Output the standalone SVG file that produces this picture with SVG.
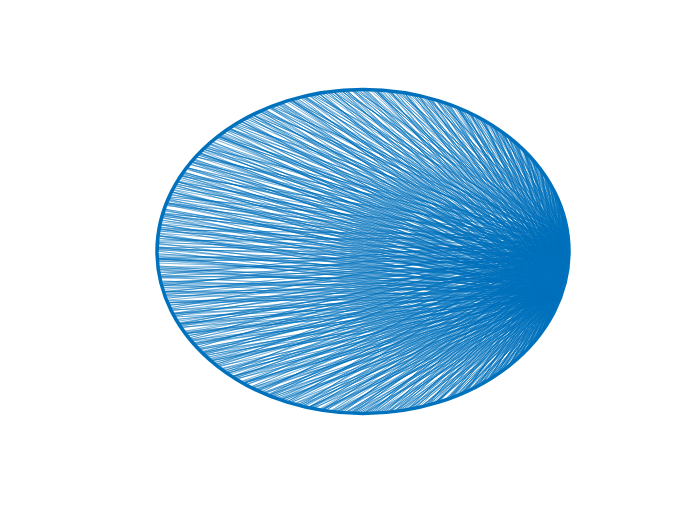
<svg xmlns="http://www.w3.org/2000/svg" xmlns:xlink="http://www.w3.org/1999/xlink" width="700" height="525" viewBox="0 0 700 525">
<style>
.edge{fill:none;stroke:#0072BD;stroke-width:0.0034;stroke-linejoin:round}
.o1{stroke-opacity:0.55}
.o2{stroke-opacity:0.7}
.o3{stroke-opacity:0.45}
.node{fill:none;stroke:#0072BD;stroke-width:3.5}
</style>
<defs>
<path id="p1" class="edge" d="M1 0L.998 .07 1 0 .99 .139 1 0 .978 .208 1 0 .961 .276 1 0 .94 .342 1 0 .914 .407 1 0 .883 .469 1 0 .848 .53 1 0 .809 .588 1 0 .766 .643 1 0 .719 .695 1 0 .669 .743 1 0 .616 .788 1 0 .559 .829 1 0 .5 .866 1 0 .438 .899 1 0 .375 .927 1 0 .309 .951 1 0 .242 .97 1 0 .174 .985 1 0 .105 .995 1 0 .035 .999 1 0 -.035 .999 1 0 -.105 .995 1 0 -.174 .985 1 0 -.242 .97 1 0 -.309 .951 1 0 -.375 .927 1 0 -.438 .899 1 0 -.5 .866 1 0 -.559 .829 1 0 -.616 .788 1 0 -.669 .743 1 0 -.719 .695 1 0 -.766 .643 1 0 -.809 .588 1 0 -.848 .53 1 0 -.883 .469 1 0 -.914 .407 1 0 -.94 .342 1 0 -.961 .276 1 0 -.978 .208 1 0 -.99 .139 1 0 -.998 .07 1 0 -1 0 1 0 -.998 -.07 1 0 -.99 -.139 1 0 -.978 -.208 1 0 -.961 -.276 1 0 -.94 -.342 1 0 -.914 -.407 1 0 -.883 -.469 1 0 -.848 -.53 1 0 -.809 -.588 1 0 -.766 -.643 1 0 -.719 -.695 1 0 -.669 -.743 1 0 -.616 -.788 1 0 -.559 -.829 1 0 -.5 -.866 1 0 -.438 -.899 1 0 -.375 -.927 1 0 -.309 -.951 1 0 -.242 -.97 1 0 -.174 -.985 1 0 -.105 -.995 1 0 -.035 -.999 1 0 .035 -.999 1 0 .105 -.995 1 0 .174 -.985 1 0 .242 -.97 1 0 .309 -.951 1 0 .375 -.927 1 0 .438 -.899 1 0 .5 -.866 1 0 .559 -.829 1 0 .616 -.788 1 0 .669 -.743 1 0 .719 -.695 1 0 .766 -.643 1 0 .809 -.588 1 0 .848 -.53 1 0 .883 -.469 1 0 .914 -.407 1 0 .94 -.342 1 0 .961 -.276 1 0 .978 -.208 1 0 .99 -.139 1 0 .998 -.07"/>
<path id="p2" class="edge" d="M.999 -.035L.998 .07 .999 -.035 .99 .139 .999 -.035 .978 .208 .999 -.035 .961 .276 .999 -.035 .94 .342 .999 -.035 .914 .407 .999 -.035 .883 .469 .999 -.035 .848 .53 .999 -.035 .809 .588 .999 -.035 .766 .643 .999 -.035 .719 .695 .999 -.035 .669 .743 .999 -.035 .616 .788 .999 -.035 .559 .829 .999 -.035 .5 .866 .999 -.035 .438 .899 .999 -.035 .375 .927 .999 -.035 .309 .951 .999 -.035 .242 .97 .999 -.035 .174 .985 .999 -.035 .105 .995 .999 -.035 .035 .999 .999 -.035 -.035 .999 .999 -.035 -.105 .995 .999 -.035 -.174 .985 .999 -.035 -.242 .97 .999 -.035 -.309 .951 .999 -.035 -.375 .927 .999 -.035 -.438 .899 .999 -.035 -.5 .866 .999 -.035 -.559 .829 .999 -.035 -.616 .788 .999 -.035 -.669 .743 .999 -.035 -.719 .695 .999 -.035 -.766 .643 .999 -.035 -.809 .588 .999 -.035 -.848 .53 .999 -.035 -.883 .469 .999 -.035 -.914 .407 .999 -.035 -.94 .342 .999 -.035 -.961 .276 .999 -.035 -.978 .208 .999 -.035 -.99 .139 .999 -.035 -.998 .07 .999 -.035 -1 0 .999 -.035 -.998 -.07 .999 -.035 -.99 -.139 .999 -.035 -.978 -.208 .999 -.035 -.961 -.276 .999 -.035 -.94 -.342 .999 -.035 -.914 -.407 .999 -.035 -.883 -.469 .999 -.035 -.848 -.53 .999 -.035 -.809 -.588 .999 -.035 -.766 -.643 .999 -.035 -.719 -.695 .999 -.035 -.669 -.743 .999 -.035 -.616 -.788 .999 -.035 -.559 -.829 .999 -.035 -.5 -.866 .999 -.035 -.438 -.899 .999 -.035 -.375 -.927 .999 -.035 -.309 -.951 .999 -.035 -.242 -.97 .999 -.035 -.174 -.985 .999 -.035 -.105 -.995 .999 -.035 -.035 -.999 .999 -.035 .035 -.999 .999 -.035 .105 -.995 .999 -.035 .174 -.985 .999 -.035 .242 -.97 .999 -.035 .309 -.951 .999 -.035 .375 -.927 .999 -.035 .438 -.899 .999 -.035 .5 -.866 .999 -.035 .559 -.829 .999 -.035 .616 -.788 .999 -.035 .669 -.743 .999 -.035 .719 -.695 .999 -.035 .766 -.643 .999 -.035 .809 -.588 .999 -.035 .848 -.53 .999 -.035 .883 -.469 .999 -.035 .914 -.407 .999 -.035 .94 -.342 .999 -.035 .961 -.276 .999 -.035 .978 -.208 .999 -.035 .99 -.139"/>
<path id="p3" class="edge" d="M.9998 -.0175L.998 .07 .9998 -.0175 .978 .208 .9998 -.0175 .961 .276 .9998 -.0175 .883 .469 .9998 -.0175 .848 .53 .9998 -.0175 .809 .588 .9998 -.0175 .669 .743 .9998 -.0175 .559 .829 .9998 -.0175 .5 .866 .9998 -.0175 .438 .899 .9998 -.0175 .242 .97 .9998 -.0175 .035 .999 .9998 -.0175 -.035 .999 .9998 -.0175 -.174 .985 .9998 -.0175 -.375 .927 .9998 -.0175 -.438 .899 .9998 -.0175 -.559 .829 .9998 -.0175 -.719 .695 .9998 -.0175 -.766 .643 .9998 -.0175 -.848 .53 .9998 -.0175 -.883 .469 .9998 -.0175 -.961 .276 .9998 -.0175 -.99 .139 .9998 -.0175 -.998 .07 .9998 -.0175 -.99 -.139 .9998 -.0175 -.978 -.208 .9998 -.0175 -.914 -.407 .9998 -.0175 -.848 -.53 .9998 -.0175 -.766 -.643 .9998 -.0175 -.719 -.695 .9998 -.0175 -.559 -.829 .9998 -.0175 -.438 -.899 .9998 -.0175 -.375 -.927 .9998 -.0175 -.174 -.985 .9998 -.0175 -.035 -.999 .9998 -.0175 .035 -.999 .9998 -.0175 .242 -.97 .9998 -.0175 .375 -.927 .9998 -.0175 .438 -.899 .9998 -.0175 .616 -.788 .9998 -.0175 .719 -.695 .9998 -.0175 .766 -.643 .9998 -.0175 .883 -.469 .9998 -.0175 .94 -.342 .9998 -.0175 .978 -.208"/>
<path id="p4" class="edge" d="M.9998 .0175L.99 .139 .9998 .0175 .94 .342 .9998 .0175 .914 .407 .9998 .0175 .766 .643 .9998 .0175 .719 .695 .9998 .0175 .616 .788 .9998 .0175 .375 .927 .9998 .0175 .309 .951 .9998 .0175 .174 .985 .9998 .0175 .105 .995 .9998 .0175 -.105 .995 .9998 .0175 -.242 .97 .9998 .0175 -.309 .951 .9998 .0175 -.5 .866 .9998 .0175 -.616 .788 .9998 .0175 -.669 .743 .9998 .0175 -.809 .588 .9998 .0175 -.914 .407 .9998 .0175 -.94 .342 .9998 .0175 -.978 .208 .9998 .0175 -1 0 .9998 .0175 -.998 -.07 .9998 .0175 -.961 -.276 .9998 .0175 -.94 -.342 .9998 .0175 -.883 -.469 .9998 .0175 -.809 -.588 .9998 .0175 -.669 -.743 .9998 .0175 -.616 -.788 .9998 .0175 -.5 -.866 .9998 .0175 -.309 -.951 .9998 .0175 -.242 -.97 .9998 .0175 -.105 -.995 .9998 .0175 .105 -.995 .9998 .0175 .174 -.985 .9998 .0175 .309 -.951 .9998 .0175 .5 -.866 .9998 .0175 .559 -.829 .9998 .0175 .669 -.743 .9998 .0175 .809 -.588 .9998 .0175 .848 -.53 .9998 .0175 .914 -.407 .9998 .0175 .961 -.276 .9998 .0175 .99 -.139"/>
<path id="p5" class="edge" d="M.9998 .0175L.978 .208 .9998 .0175 .961 .276 .9998 .0175 .883 .469 .9998 .0175 .848 .53 .9998 .0175 .809 .588 .9998 .0175 .669 .743 .9998 .0175 .559 .829 .9998 .0175 .5 .866 .9998 .0175 .438 .899 .9998 .0175 .242 .97 .9998 .0175 .035 .999 .9998 .0175 -.035 .999 .9998 .0175 -.174 .985 .9998 .0175 -.375 .927 .9998 .0175 -.438 .899 .9998 .0175 -.559 .829 .9998 .0175 -.719 .695 .9998 .0175 -.766 .643 .9998 .0175 -.848 .53 .9998 .0175 -.883 .469 .9998 .0175 -.961 .276 .9998 .0175 -.99 .139 .9998 .0175 -.998 .07 .9998 .0175 -.99 -.139 .9998 .0175 -.978 -.208 .9998 .0175 -.914 -.407 .9998 .0175 -.848 -.53 .9998 .0175 -.766 -.643 .9998 .0175 -.719 -.695 .9998 .0175 -.559 -.829 .9998 .0175 -.438 -.899 .9998 .0175 -.375 -.927 .9998 .0175 -.174 -.985 .9998 .0175 -.035 -.999 .9998 .0175 .035 -.999 .9998 .0175 .242 -.97 .9998 .0175 .375 -.927 .9998 .0175 .438 -.899 .9998 .0175 .616 -.788 .9998 .0175 .719 -.695 .9998 .0175 .766 -.643 .9998 .0175 .883 -.469 .9998 .0175 .94 -.342 .9998 .0175 .978 -.208 .9998 .0175 .998 -.07"/>
<path id="p6" class="edge" d="M.9998 -.0175L.99 .139 .9998 -.0175 .94 .342 .9998 -.0175 .914 .407 .9998 -.0175 .766 .643 .9998 -.0175 .719 .695 .9998 -.0175 .616 .788 .9998 -.0175 .375 .927 .9998 -.0175 .309 .951 .9998 -.0175 .174 .985 .9998 -.0175 .105 .995 .9998 -.0175 -.105 .995 .9998 -.0175 -.242 .97 .9998 -.0175 -.309 .951 .9998 -.0175 -.5 .866 .9998 -.0175 -.616 .788 .9998 -.0175 -.669 .743 .9998 -.0175 -.809 .588 .9998 -.0175 -.914 .407 .9998 -.0175 -.94 .342 .9998 -.0175 -.978 .208 .9998 -.0175 -1 0 .9998 -.0175 -.998 -.07 .9998 -.0175 -.961 -.276 .9998 -.0175 -.94 -.342 .9998 -.0175 -.883 -.469 .9998 -.0175 -.809 -.588 .9998 -.0175 -.669 -.743 .9998 -.0175 -.616 -.788 .9998 -.0175 -.5 -.866 .9998 -.0175 -.309 -.951 .9998 -.0175 -.242 -.97 .9998 -.0175 -.105 -.995 .9998 -.0175 .105 -.995 .9998 -.0175 .174 -.985 .9998 -.0175 .309 -.951 .9998 -.0175 .5 -.866 .9998 -.0175 .559 -.829 .9998 -.0175 .669 -.743 .9998 -.0175 .809 -.588 .9998 -.0175 .848 -.53 .9998 -.0175 .914 -.407 .9998 -.0175 .961 -.276 .9998 -.0175 .99 -.139"/>
</defs>
<rect width="700" height="525" fill="#ffffff"/>
<g id="connectors">
<use xlink:href="#p1" href="#p1" class="o1" transform="translate(363 251.5) scale(206 162) rotate(0.5)"/>
<use xlink:href="#p1" href="#p1" class="o3" transform="translate(363 251.5) scale(206 162) rotate(12.8)"/>
<use xlink:href="#p2" href="#p2" class="o3" transform="translate(363 251.5) scale(206 162) rotate(6.5)"/>
<use xlink:href="#p2" href="#p2" class="o1" transform="translate(363 251.5) scale(206 162) rotate(17.5)"/>
<use xlink:href="#p3" href="#p3" class="o2" transform="translate(363 251.5) scale(206 162) rotate(-4.3)"/>
<use xlink:href="#p3" href="#p3" class="o2" transform="translate(363 251.5) scale(206 162) rotate(5.1)"/>
<use xlink:href="#p3" href="#p3" class="o2" transform="translate(363 251.5) scale(206 162) rotate(13.6)"/>
<use xlink:href="#p4" href="#p4" class="o1" transform="translate(363 251.5) scale(206 162) rotate(-2.6)"/>
<use xlink:href="#p4" href="#p4" class="o3" transform="translate(363 251.5) scale(206 162) rotate(7.9)"/>
<use xlink:href="#p4" href="#p4" class="o1" transform="translate(363 251.5) scale(206 162) rotate(14.9)"/>
<use xlink:href="#p5" href="#p5" class="o1" transform="translate(363 251.5) scale(206 162) rotate(1.8)"/>
<use xlink:href="#p5" href="#p5" class="o3" transform="translate(363 251.5) scale(206 162) rotate(9.7)"/>
<use xlink:href="#p5" href="#p5" class="o1" transform="translate(363 251.5) scale(206 162) rotate(16.2)"/>
<use xlink:href="#p6" href="#p6" class="o2" transform="translate(363 251.5) scale(206 162) rotate(3.2)"/>
<use xlink:href="#p6" href="#p6" class="o2" transform="translate(363 251.5) scale(206 162) rotate(11.2)"/>
<use xlink:href="#p6" href="#p6" class="o3" transform="translate(363 251.5) scale(206 162) rotate(18.4)"/>
</g>
<g id="nodes">
<ellipse class="node" cx="363" cy="251.5" rx="206" ry="162"/>
</g>
</svg>
